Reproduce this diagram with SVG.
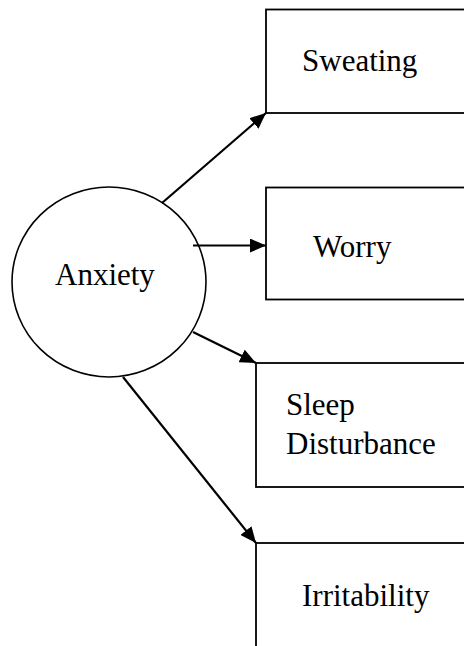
<svg xmlns="http://www.w3.org/2000/svg" width="464" height="646" viewBox="0 0 464 646">
<style>
.box{fill:#fff;stroke:#000;stroke-width:1.8}
.lbl{font-family:"Liberation Serif","Times New Roman",serif;font-size:31px;fill:#000}
.con{stroke:#000;stroke-width:2.2;fill:none}
</style>
<defs>
<marker id="ah" viewBox="0 0 16 14" refX="16" refY="7" markerWidth="16" markerHeight="14" markerUnits="userSpaceOnUse" orient="auto">
<path d="M0,0 L16,7 L0,14 z" fill="#000"/>
</marker>
</defs>
<rect width="464" height="646" fill="#fff"/>
<g id="anxiety">
<ellipse cx="109" cy="282" rx="97" ry="95" fill="#fff" stroke="#000" stroke-width="1.6"/>
<text class="lbl" x="55" y="285">Anxiety</text>
</g>
<g id="sweating">
<rect class="box" x="266" y="9.5" width="220" height="103.5"/>
<text class="lbl" x="302" y="71">Sweating</text>
</g>
<g id="worry">
<rect class="box" x="266" y="187.5" width="220" height="112"/>
<text class="lbl" x="313" y="257">Worry</text>
</g>
<g id="sleep">
<rect class="box" x="256" y="363" width="230" height="124"/>
<text class="lbl" x="286" y="415">Sleep</text>
<text class="lbl" x="286" y="454">Disturbance</text>
</g>
<g id="irritability">
<rect class="box" x="256" y="543" width="230" height="130"/>
<text class="lbl" x="302" y="606">Irritability</text>
</g>
<g id="connectors">
<line class="con" x1="162" y1="203" x2="266" y2="113" marker-end="url(#ah)"/>
<line class="con" x1="193" y1="245.5" x2="266" y2="245.5" marker-end="url(#ah)"/>
<line class="con" x1="193" y1="332" x2="256" y2="363" marker-end="url(#ah)"/>
<line class="con" x1="123" y1="377" x2="256" y2="543" marker-end="url(#ah)"/>
</g>
</svg>
